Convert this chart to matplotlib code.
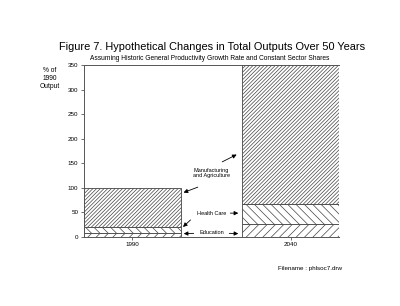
import matplotlib
matplotlib.use("Agg")
import matplotlib.pyplot as plt

years = ["1990", "2040"]
education = [7.5, 26.25]
health_care = [11.5, 40.25]
manufacturing = [81, 283.5]
yticks = [0, 50, 100, 150, 200, 250, 300, 350]

plt.rcParams['font.family'] = ['Liberation Sans', 'DejaVu Sans']
plt.rcParams['hatch.linewidth'] = 0.5
plt.rcParams['hatch.color'] = '#333333'

fig = plt.figure(figsize=(4.0, 3.06), dpi=100)
ax = fig.add_axes([0.21, 0.2265, 0.6375, 0.561])

xpos = [0, 1.63]
w = 1.0
ec = '#444444'
ax.bar(xpos, education, width=w, align='edge', color='white', edgecolor=ec, hatch='////', linewidth=0.6)
ax.bar(xpos, health_care, width=w, align='edge', bottom=education, color='white', edgecolor=ec, hatch='\\\\\\\\', linewidth=0.6)
bottom2 = [a + b for a, b in zip(education, health_care)]
ax.bar(xpos, manufacturing, width=w, align='edge', bottom=bottom2, color='white', edgecolor=ec, hatch='/' * 9, linewidth=0.6)

ax.set_xlim(0, 2.63)
ax.set_ylim(0, 350)
ax.set_yticks(yticks)
ax.set_yticklabels([str(v) for v in yticks], fontsize=4.5)
ax.set_xticks([x + w / 2 for x in xpos])
ax.set_xticklabels(years, fontsize=4.5)
ax.tick_params(length=2, width=0.6, color='#555555', pad=2)
for s in ax.spines.values():
    s.set_linewidth(0.7)
    s.set_color('#555555')
ax.spines['right'].set_visible(False)

fig.text(0.53, 0.846, "Figure 7. Hypothetical Changes in Total Outputs Over 50 Years",
         ha='center', va='center', fontsize=7.9)
fig.text(0.525, 0.808, "Assuming Historic General Productivity Growth Rate and Constant Sector Shares",
         ha='center', va='center', fontsize=4.8)
fig.text(0.125, 0.745, "% of\n1990\nOutput", ha='center', va='center', fontsize=4.8, linespacing=1.2)
fig.text(0.695, 0.124, "Filename : phlsoc7.drw", ha='left', va='center', fontsize=4.5)

arrow = dict(arrowstyle='-|>', color='black', lw=0.6, mutation_scale=6)
# Manufacturing
ax.annotate("", xy=(1.0, 88), xytext=(1.2, 103), arrowprops=arrow)
ax.annotate("", xy=(1.6, 170), xytext=(1.4, 150), arrowprops=arrow)
ax.text(1.31, 130, "Manufacturing\nand Agriculture", ha='center', va='center', fontsize=4, linespacing=1.1)
# Health care
ax.text(1.32, 48, "Health Care", ha='center', va='center', fontsize=4)
ax.annotate("", xy=(1.62, 48), xytext=(1.48, 48), arrowprops=arrow)
ax.annotate("", xy=(1.0, 16), xytext=(1.12, 38), arrowprops=arrow)
# Education
ax.text(1.32, 8, "Education", ha='center', va='center', fontsize=4)
ax.annotate("", xy=(1.0, 6), xytext=(1.16, 7), arrowprops=arrow)
ax.annotate("", xy=(1.62, 6), xytext=(1.47, 7), arrowprops=arrow)

fig.savefig("out.png", dpi=100, facecolor='white')
